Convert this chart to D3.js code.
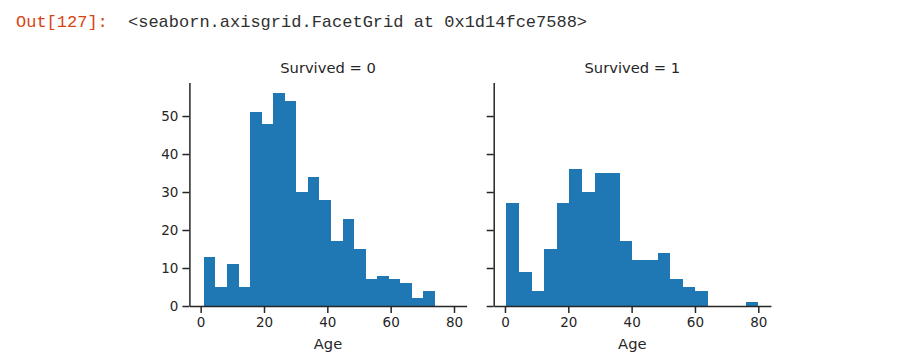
<!DOCTYPE html>
<meta charset="utf-8">
<style>
    body { margin: 0; background: #fff; }
</style>
<script src="https://d3js.org/d3.v7.min.js"></script>
<div id="chart"></div>
<script>
    // Age histogram counts (20 bins each)
    var panels = ["Survived = 0", "Survived = 1"];
    var ageRange0 = [1, 74];       // min / max age of the non-survivors
    var ageRange1 = [0.42, 80];    // min / max age of the survivors
    var counts0 = [13, 5, 11, 5, 51, 48, 56, 54, 30, 34, 28, 17, 23, 15, 7, 8, 7, 6, 2, 4];
    var counts1 = [27, 9, 4, 15, 27, 36, 30, 35, 35, 17, 12, 12, 14, 7, 5, 4, 0, 0, 0, 1];
    var xTicks = [0, 20, 40, 60, 80];
    var yTicks = [0, 10, 20, 30, 40, 50];

    var W = 910, H = 364;
    var svg = d3.select("#chart").append("svg")
        .attr("width", W)
        .attr("height", H);

    // notebook header line
    svg.append("text")
        .attr("x", 16).attr("y", 27)
        .style("font-family", "Liberation Mono, monospace")
        .style("font-size", "17px")
        .style("fill", "#d84315")
        .text("Out[127]:");
    svg.append("text")
        .attr("x", 128).attr("y", 27)
        .style("font-family", "Liberation Mono, monospace")
        .style("font-size", "17px")
        .style("fill", "#303030")
        .text("<seaborn.axisgrid.FacetGrid at 0x1d14fce7588>");

    // build bins from range + counts (same as plt.hist(bins=20))
    function makeBins(range, counts) {
        var w = (range[1] - range[0]) / counts.length;
        return counts.map(function (c, i) {
            return {x0: range[0] + i * w, x1: range[0] + (i + 1) * w, n: c};
        });
    }
    var data = [makeBins(ageRange0, counts0), makeBins(ageRange1, counts1)];

    // shared scales (sharex / sharey)
    var lo = Math.min(ageRange0[0], ageRange1[0]), hi = Math.max(ageRange0[1], ageRange1[1]);
    var pad = (hi - lo) * 0.05;
    var maxN = d3.max(counts0.concat(counts1));

    var panelLeft = [189.4, 493.7], panelW = 277.2;
    var plotTop = 82.6, plotBottom = 306;

    var y = d3.scaleLinear().domain([0, maxN * 1.05]).range([plotBottom, plotTop]);

    function styleAxis(a) {
        a.select(".domain").style("stroke", "#262626").style("stroke-width", 1.5);
        a.selectAll(".tick line").style("stroke", "#262626").style("stroke-width", 1.5);
        a.selectAll(".tick text")
            .style("font-family", "DejaVu Sans, sans-serif")
            .style("font-size", "13.5px")
            .style("fill", "#262626");
    }

    data.forEach(function (bins, p) {
        var x = d3.scaleLinear().domain([lo - pad, hi + pad])
            .range([panelLeft[p], panelLeft[p] + panelW]);
        var g = svg.append("g");

        g.selectAll("rect.bar")
            .data(bins.filter(function (d) { return d.n > 0; }))
            .enter().append("rect")
            .attr("class", "bar")
            .attr("x", function (d) { return x(d.x0); })
            .attr("width", function (d) { return x(d.x1) - x(d.x0); })
            .attr("y", function (d) { return y(d.n); })
            .attr("height", function (d) { return y(0) - y(d.n); })
            .attr("shape-rendering", "crispEdges")
            .style("fill", "#1f77b4");

        // x axis
        var xa = g.append("g")
            .attr("transform", "translate(0," + plotBottom + ")")
            .call(d3.axisBottom(x).tickValues(xTicks).tickSize(7).tickPadding(4).tickSizeOuter(0));
        styleAxis(xa);

        // y axis (labels only on the first panel)
        var ya = g.append("g")
            .attr("transform", "translate(" + panelLeft[p] + ",0)")
            .call(d3.axisLeft(y).tickValues(yTicks).tickSize(7).tickPadding(4).tickSizeOuter(0));
        styleAxis(ya);
        if (p > 0) ya.selectAll(".tick text").remove();

        // title
        g.append("text")
            .attr("x", panelLeft[p] + panelW / 2)
            .attr("y", 73)
            .style("text-anchor", "middle")
            .style("font-family", "DejaVu Sans, sans-serif")
            .style("font-size", "14.7px")
            .style("fill", "#262626")
            .text(panels[p]);

        // x label
        g.append("text")
            .attr("x", panelLeft[p] + panelW / 2)
            .attr("y", 349)
            .style("text-anchor", "middle")
            .style("font-family", "DejaVu Sans, sans-serif")
            .style("font-size", "14.7px")
            .style("fill", "#262626")
            .text("Age");
    });
</script>
</html>
